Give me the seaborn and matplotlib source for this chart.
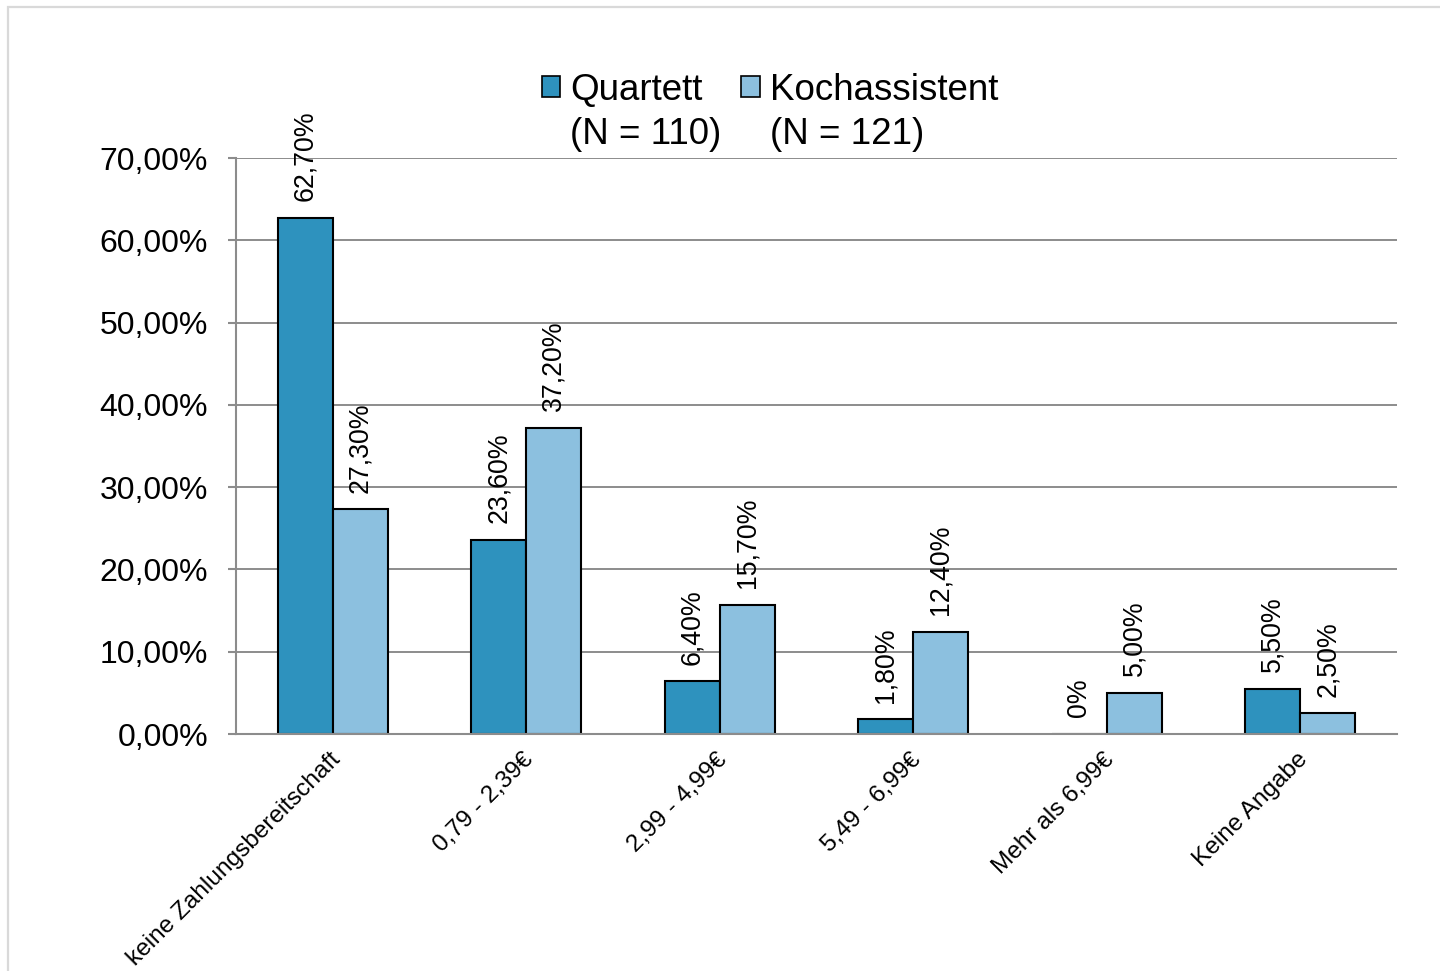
import matplotlib
matplotlib.use("Agg")
import matplotlib.pyplot as plt
from matplotlib.patches import Patch, Rectangle
from matplotlib.ticker import FuncFormatter
from matplotlib.transforms import ScaledTranslation
import numpy as np
import pandas as pd
import seaborn as sns

# Daten
categories = ["keine Zahlungsbereitschaft", "0,79 - 2,39€", "2,99 - 4,99€",
              "5,49 - 6,99€", "Mehr als 6,99€", "Keine Angabe"]
quartett = [62.7, 23.6, 6.4, 1.8, 0.0, 5.5]
kochassistent = [27.3, 37.2, 15.7, 12.4, 5.0, 2.5]
groups = ["Quartett", "Kochassistent"]
group_n = ["(N = 110)", "(N = 121)"]
colors = ["#2E92BE", "#8CC0DF"]

df = pd.DataFrame({
    "Kategorie": categories * 2,
    "Anteil": quartett + kochassistent,
    "Gruppe": [groups[0]] * len(categories) + [groups[1]] * len(categories),
})

sns.set_style("white")
plt.rcParams["font.family"] = ["Liberation Sans", "DejaVu Sans"]
plt.rcParams["text.color"] = "black"
plt.rcParams["xtick.color"] = "black"
plt.rcParams["ytick.color"] = "black"

fig = plt.figure(figsize=(14.4, 9.71), dpi=100)
ax = fig.add_axes([236 / 1440, 1 - 734 / 971, (1397 - 236) / 1440, (734 - 158) / 971])

sns.barplot(data=df, x="Kategorie", y="Anteil", hue="Gruppe", palette=colors,
            saturation=1, width=0.57, edgecolor="black", linewidth=1.5, ax=ax,
            legend=False)

def fmt_label(v):
    if v == 0:
        return "0%"
    return f"{v:.2f}".replace(".", ",") + "%"

for cont in ax.containers:
    vals = cont.datavalues
    ax.bar_label(cont, labels=[fmt_label(v) for v in vals], rotation=90,
                 padding=12, fontsize=19.3, color="black")

grey = "#8C8C8C"
ax.set_ylim(0, 70)
ax.set_yticks(np.arange(0, 71, 10))
ax.yaxis.set_major_formatter(FuncFormatter(lambda v, p: f"{v:.2f}".replace(".", ",") + "%"))
ax.set_xlim(-0.5, len(categories) - 0.5)
ax.set_xticks(np.arange(-0.5, len(categories), 1), minor=True)
ax.tick_params(axis="x", which="major", length=0, pad=16, labelsize=17.6,
               labelcolor="black")
ax.tick_params(axis="x", which="minor", length=6, width=1.5, color=grey, direction="out")
ax.tick_params(axis="y", which="major", length=6, width=1.5, color=grey, labelsize=23,
               direction="out", pad=14, left=True, labelcolor="black")
shift = ScaledTranslation(4 / 100, 0, fig.dpi_scale_trans)
for lab in ax.get_xticklabels():
    lab.set_rotation(45)
    lab.set_ha("right")
    lab.set_va("center")
    lab.set_rotation_mode("anchor")
    lab.set_transform(lab.get_transform() + shift)

ax.set_axisbelow(True)
ax.yaxis.grid(True, color=grey, linewidth=1.4)
ax.xaxis.grid(False)
for s in ["top", "right"]:
    ax.spines[s].set_visible(False)
for s in ["left", "bottom"]:
    ax.spines[s].set_color(grey)
    ax.spines[s].set_linewidth(1.5)
ax.set_xlabel("")
ax.set_ylabel("")

handles = [Patch(facecolor=c, edgecolor="black", linewidth=1.2) for c in colors]
leg = fig.legend(handles, groups, loc="center", bbox_to_anchor=(770 / 1440, 1 - 90 / 971),
                 ncol=2, frameon=False, fontsize=26.5, handlelength=0.5, handleheight=0.5,
                 handletextpad=0.27, columnspacing=1.05, borderpad=0)

# zweite Zeile der Legende
fig.canvas.draw()
inv = fig.transFigure.inverted()
for t, n in zip(leg.get_texts(), group_n):
    bb = t.get_window_extent()
    x0, y0 = inv.transform((bb.x0, bb.y0))
    fig.text(x0, y0 - 10 / 971, n, fontsize=26.5, ha="left", va="top")

# Rahmen
fig.patches.append(Rectangle((8 / 1440, -0.5), 2, 1.5 - 7 / 971, transform=fig.transFigure,
                             fill=False, edgecolor="#D9D9D9", linewidth=1.6, zorder=-1))

fig.savefig("out.png", dpi=100)
